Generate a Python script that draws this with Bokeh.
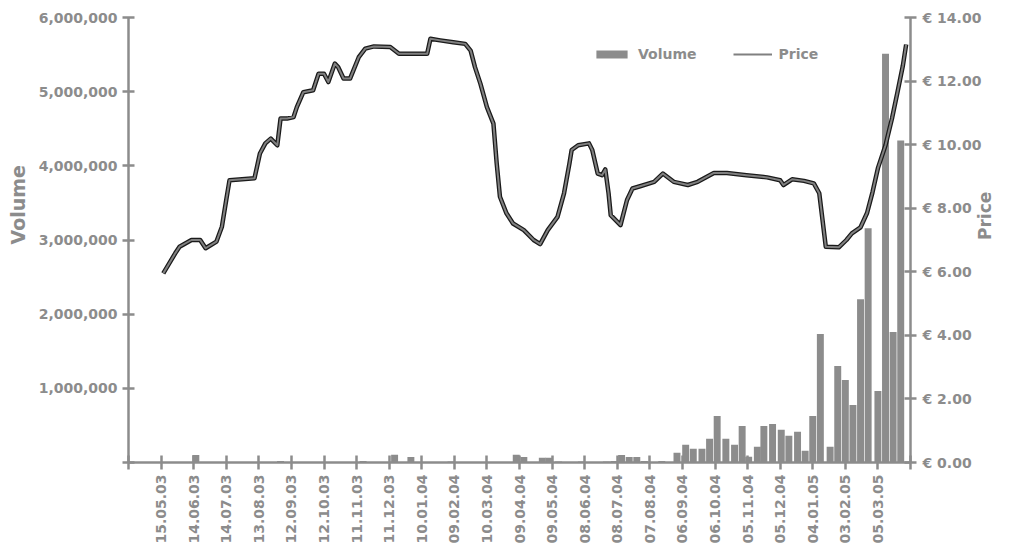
import math
import pandas as pd
from bokeh.plotting import figure
from bokeh.models import (Range1d, LinearAxis, FixedTicker, NumeralTickFormatter,
                          PrintfTickFormatter, ColumnDataSource, Legend, LegendItem, Title)
from bokeh.embed import file_html
from bokeh.resources import INLINE

# ---------------- data ----------------
x_tick_labels = ["15.05.03", "14.06.03", "14.07.03", "13.08.03", "12.09.03", "12.10.03",
                 "11.11.03", "11.12.03", "10.01.04", "09.02.04", "10.03.04", "09.04.04",
                 "09.05.04", "08.06.04", "08.07.04", "07.08.04", "06.09.04", "06.10.04",
                 "05.11.04", "05.12.04", "04.01.05", "03.02.05", "05.03.05"]
volume_ticks = [0, 1000000, 2000000, 3000000, 4000000, 5000000, 6000000]
price_ticks = [0, 2, 4, 6, 8, 10, 12, 14]

bar_dates = ["2003-06-16", "2003-09-02", "2003-11-17", "2003-12-16", "2003-12-31",
             "2004-02-06", "2004-04-06", "2004-04-13", "2004-04-30", "2004-05-06",
             "2004-05-15", "2004-06-05", "2004-06-28", "2004-07-05", "2004-07-12",
             "2004-07-19", "2004-07-26", "2004-08-02", "2004-08-18", "2004-09-01",
             "2004-09-09", "2004-09-16", "2004-09-24", "2004-10-01", "2004-10-08",
             "2004-10-16", "2004-10-24", "2004-10-31", "2004-11-06", "2004-11-14",
             "2004-11-20", "2004-11-28", "2004-12-06", "2004-12-13", "2004-12-21",
             "2004-12-28", "2005-01-04", "2005-01-11", "2005-01-20", "2005-01-27",
             "2005-02-03", "2005-02-10", "2005-02-17", "2005-02-24", "2005-03-05",
             "2005-03-12", "2005-03-19", "2005-03-26"]
volumes = [100000, 20000, 20000, 103000, 75000,
           15000, 103000, 75000, 65000, 65000,
           15000, 15000, 15000, 20000, 100000,
           75000, 75000, 20000, 20000, 130000,
           238000, 184000, 184000, 319000, 628000,
           319000, 238000, 493000, 76000, 211000,
           493000, 520000, 440000, 359000, 413000,
           157000, 628000, 1731000, 211000, 1300000,
           1112000, 776000, 2200000, 3158000, 964000,
           5510000, 1758000, 4340000]

price_dates = ["2003-05-17", "2003-05-28", "2003-06-01", "2003-06-12", "2003-06-20",
               "2003-06-25", "2003-07-05", "2003-07-10", "2003-07-14", "2003-07-17",
               "2003-08-09", "2003-08-14", "2003-08-19", "2003-08-24", "2003-08-30",
               "2003-09-02", "2003-09-08", "2003-09-14", "2003-09-17", "2003-09-23",
               "2003-10-02", "2003-10-07", "2003-10-12", "2003-10-16", "2003-10-22",
               "2003-10-25", "2003-10-30", "2003-11-05", "2003-11-13", "2003-11-19",
               "2003-11-27", "2003-12-12", "2003-12-20", "2004-01-15", "2004-01-18",
               "2004-01-27", "2004-02-08", "2004-02-19", "2004-02-24", "2004-02-28",
               "2004-03-04", "2004-03-10", "2004-03-16", "2004-03-19", "2004-03-22",
               "2004-03-28", "2004-04-03", "2004-04-13", "2004-04-22", "2004-04-28",
               "2004-05-05", "2004-05-14", "2004-05-20", "2004-05-25", "2004-05-27",
               "2004-06-02", "2004-06-12", "2004-06-15", "2004-06-20", "2004-06-24",
               "2004-06-27", "2004-06-30", "2004-07-02", "2004-07-11", "2004-07-17",
               "2004-07-22", "2004-07-29", "2004-08-11", "2004-08-19", "2004-08-29",
               "2004-09-11", "2004-09-20", "2004-10-05", "2004-10-17", "2004-11-04",
               "2004-11-23", "2004-12-05", "2004-12-08", "2004-12-16", "2004-12-27",
               "2005-01-05", "2005-01-10", "2005-01-13", "2005-01-16", "2005-01-28",
               "2005-02-04", "2005-02-09", "2005-02-17", "2005-02-23", "2005-02-28",
               "2005-03-05", "2005-03-12", "2005-03-18", "2005-03-23", "2005-03-28",
               "2005-03-31"]
prices = [5.95, 6.58, 6.79, 7.00, 7.00,
          6.74, 6.95, 7.42, 8.26, 8.88,
          8.94, 9.72, 10.04, 10.19, 9.98,
          10.82, 10.82, 10.87, 11.18, 11.65,
          11.71, 12.23, 12.23, 11.97, 12.55,
          12.44, 12.08, 12.08, 12.75, 13.02,
          13.09, 13.07, 12.86, 12.86, 13.33,
          13.28, 13.22, 13.17, 12.96, 12.44,
          11.92, 11.18, 10.66, 9.41, 8.36,
          7.84, 7.52, 7.31, 7.00, 6.87,
          7.31, 7.73, 8.47, 9.41, 9.83,
          9.98, 10.04, 9.83, 9.09, 9.04,
          9.22, 8.47, 7.78, 7.47, 8.26,
          8.62, 8.69, 8.83, 9.09, 8.83,
          8.73, 8.83, 9.11, 9.11, 9.04,
          8.97, 8.88, 8.73, 8.91, 8.86,
          8.78, 8.47, 7.63, 6.79, 6.77,
          7.00, 7.21, 7.40, 7.85, 8.50,
          9.26, 9.98, 10.83, 11.65, 12.49,
          13.15]

# ---------------- styling ----------------
GRAY = "#8c8c8c"
FONT = "DejaVu Sans"
DAY_MS = 86400000


def ms(ts):
    return float(pd.Timestamp(ts).value // 10**6)


tick_dates = list(pd.to_datetime(x_tick_labels, format="%d.%m.%y"))
step = tick_dates[1] - tick_dates[0]
x_start = tick_dates[0] - step
x_end = tick_dates[-1] + step
x_ticks = [ms(x_start)] + [ms(t) for t in tick_dates] + [ms(x_end)]
overrides = {ms(t): lab for t, lab in zip(tick_dates, x_tick_labels)}
overrides[ms(x_start)] = ""
overrides[ms(x_end)] = ""

vsrc = ColumnDataSource(dict(date=pd.to_datetime(bar_dates), volume=volumes))
psrc = ColumnDataSource(dict(date=pd.to_datetime(price_dates), price=prices))

p = figure(width=1011, height=546, x_axis_type="datetime",
           x_range=Range1d(ms(x_start), ms(x_end)), y_range=Range1d(0, 6000000),
           output_backend="svg", toolbar_location=None,
           min_border_left=128, min_border_right=101, min_border_top=17,
           min_border_bottom=83)
p.extra_y_ranges = {"price": Range1d(0, 14)}
p.outline_line_color = None
p.xgrid.visible = False
p.ygrid.visible = False
p.background_fill_color = "white"
p.border_fill_color = "white"

bars = p.vbar(x="date", top="volume", width=6.4 * DAY_MS, source=vsrc,
              fill_color=GRAY, line_color=None)
outer = p.line(x="date", y="price", source=psrc, y_range_name="price",
               line_color="#1a1a1a", line_width=4.5, line_join="round")
inner = p.line(x="date", y="price", source=psrc, y_range_name="price",
               line_color="#808080", line_width=2, line_join="round")

p.xaxis.ticker = FixedTicker(ticks=x_ticks)
p.xaxis.major_label_overrides = overrides
p.xaxis.major_label_orientation = math.pi / 2

p.yaxis.ticker = FixedTicker(ticks=volume_ticks)
p.yaxis.formatter = NumeralTickFormatter(format="0,0")
p.yaxis.major_label_overrides = {0: ""}

right = LinearAxis(y_range_name="price", ticker=FixedTicker(ticks=price_ticks),
                   formatter=PrintfTickFormatter(format="€ %.2f"), axis_label="Price",
                   axis_label_standoff=1)
right.axis_label_orientation = math.pi / 2
p.add_layout(right, "right")

for ax in [p.xaxis[0], p.yaxis[0], right]:
    ax.axis_line_color = GRAY
    ax.axis_line_width = 2.5
    ax.major_tick_line_color = GRAY
    ax.major_tick_line_width = 2.5
    ax.major_tick_in = 7
    ax.major_tick_out = 7
    ax.minor_tick_line_color = None
    ax.major_label_text_color = GRAY
    ax.major_label_text_font = FONT
    ax.major_label_text_font_style = "bold"
    ax.major_label_text_font_size = "14px"
    ax.major_label_standoff = 5
    ax.axis_label_text_color = GRAY
    ax.axis_label_text_font = FONT
    ax.axis_label_text_font_style = "bold"
    ax.axis_label_text_font_size = "17px"

p.yaxis[0].major_tick_in = 6
p.yaxis[0].major_tick_out = 6
right.major_tick_in = 6
right.major_tick_out = 6
right.major_label_standoff = 6

# left axis title, placed above the vertical centre like the original
p.add_layout(Title(text="Volume", align="left", offset=218, vertical_align="top",
                   standoff=10, text_color=GRAY, text_font=FONT,
                   text_font_style="bold", text_font_size="19px"), "left")

legend = Legend(items=[LegendItem(label="Volume", renderers=[bars]),
                       LegendItem(label="Price", renderers=[inner])],
                orientation="horizontal", location=(464, 400), padding=0, margin=0,
                spacing=36, glyph_width=39, glyph_height=10, label_height=10,
                label_standoff=7, border_line_color=None, background_fill_alpha=0,
                label_text_color=GRAY, label_text_font=FONT,
                label_text_font_style="bold", label_text_font_size="14px")
p.add_layout(legend)

open("out.html", "w").write(file_html(p, INLINE))
